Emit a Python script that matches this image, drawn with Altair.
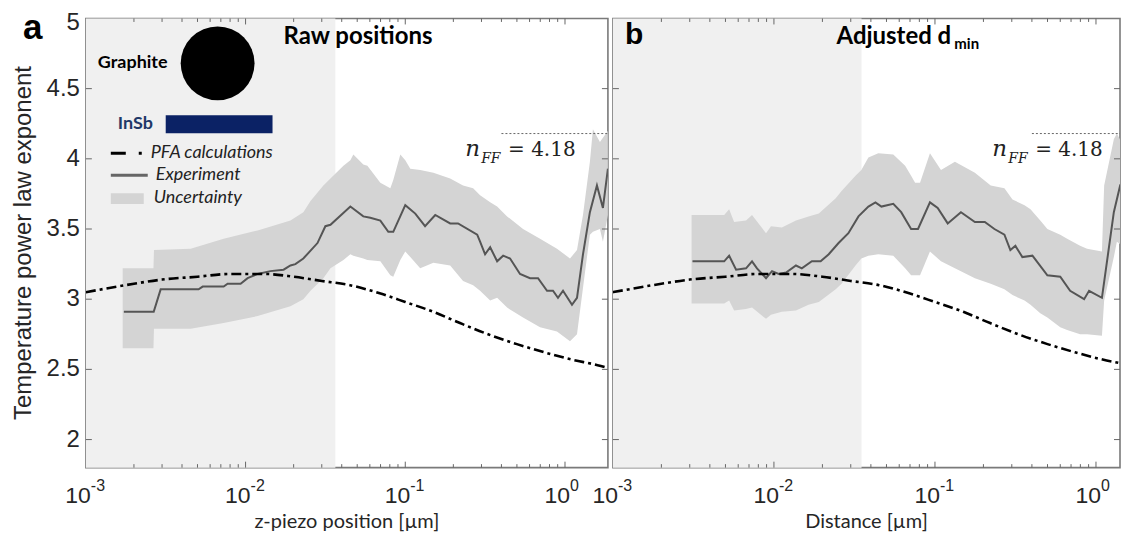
import altair as alt
import pandas as pd

# ------------------------------------------------------------------ data
pfa_x = [0.001, 0.002, 0.003, 0.005, 0.008, 0.013, 0.02, 0.03, 0.045, 0.07,
         0.1, 0.15, 0.22, 0.33, 0.5, 0.75, 1.1, 1.6, 1.86]
pfa_y = [3.05, 3.11, 3.14, 3.16, 3.18, 3.18, 3.16, 3.13, 3.10, 3.04,
         2.98, 2.91, 2.83, 2.75, 2.68, 2.62, 2.57, 2.53, 2.51]

a_exp_x = [0.00173, 0.00266, 0.00294, 0.00508, 0.00539, 0.00729, 0.00772, 0.00931,
           0.0103, 0.0119, 0.0143, 0.0173, 0.0191, 0.0205, 0.0230, 0.0282, 0.0316,
           0.0340, 0.0453, 0.0546, 0.0604, 0.0698, 0.0783, 0.0841, 0.100, 0.1155,
           0.133, 0.154, 0.191, 0.214, 0.282, 0.294, 0.316, 0.340, 0.376, 0.410,
           0.453, 0.523, 0.604, 0.678, 0.772, 0.841, 0.904, 0.972, 1.106, 1.189,
           1.296, 1.432, 1.585, 1.728, 1.857]
a_exp_y = [2.91, 2.91, 3.07, 3.07, 3.09, 3.09, 3.11, 3.11,
           3.15, 3.18, 3.20, 3.21, 3.24, 3.25, 3.29, 3.40, 3.52,
           3.53, 3.66, 3.59, 3.58, 3.56, 3.48, 3.48, 3.67, 3.61,
           3.52, 3.60, 3.54, 3.54, 3.46, 3.41, 3.32, 3.37, 3.27, 3.31,
           3.29, 3.18, 3.15, 3.15, 3.06, 3.06, 3.01, 3.06, 2.96, 3.01,
           3.32, 3.62, 3.81, 3.65, 3.93]

a_band_x = [0.00170, 0.00265, 0.00267, 0.00453, 0.00729, 0.0119, 0.0191, 0.0230,
            0.0255, 0.0307, 0.0340, 0.0410, 0.0453, 0.0473, 0.0546, 0.0579, 0.0698,
            0.0806, 0.0841, 0.0931, 0.100, 0.1075, 0.124, 0.150, 0.191, 0.230,
            0.266, 0.294, 0.340, 0.376, 0.434, 0.546, 0.698, 0.891, 1.075, 1.189,
            1.296, 1.432, 1.496, 1.655, 1.728, 1.857]
a_band_hi = [3.22, 3.22, 3.35, 3.36, 3.43, 3.49, 3.56, 3.62,
             3.70, 3.81, 3.86, 3.95, 3.99, 4.03, 3.96, 3.95, 3.83,
             3.79, 3.85, 4.03, 3.99, 3.93, 3.92, 3.90, 3.86, 3.81,
             3.79, 3.74, 3.69, 3.66, 3.59, 3.50, 3.43, 3.36, 3.29, 3.35,
             3.60, 3.98, 4.21, 4.12, 4.15, 4.20]
a_band_lo = [2.65, 2.65, 2.79, 2.79, 2.83, 2.88, 2.95, 3.00,
             3.06, 3.15, 3.22, 3.28, 3.32, 3.31, 3.29, 3.28, 3.27,
             3.17, 3.16, 3.28, 3.34, 3.30, 3.22, 3.26, 3.24, 3.13,
             3.10, 3.06, 2.99, 3.01, 2.94, 2.87, 2.80, 2.77, 2.70, 2.75,
             3.08, 3.46, 3.48, 3.50, 3.41, 3.60]

b_exp_x = [0.00312, 0.00491, 0.00527, 0.00582, 0.00671, 0.00731, 0.00785, 0.00893,
           0.00973, 0.0107, 0.0119, 0.0137, 0.0149, 0.0172, 0.0195, 0.0219, 0.0252,
           0.0290, 0.0335, 0.0386, 0.0427, 0.0465, 0.0551, 0.0617, 0.0711, 0.0785,
           0.0931, 0.104, 0.120, 0.145, 0.177, 0.204, 0.234, 0.270, 0.294, 0.316,
           0.349, 0.403, 0.499, 0.600, 0.691, 0.844, 0.906, 1.089, 1.291, 1.406, 1.55]
b_exp_y = [3.27, 3.27, 3.31, 3.21, 3.22, 3.27, 3.22, 3.15,
           3.20, 3.18, 3.19, 3.24, 3.22, 3.27, 3.27, 3.32, 3.40,
           3.47, 3.59, 3.66, 3.69, 3.66, 3.68, 3.62, 3.50, 3.50,
           3.69, 3.65, 3.54, 3.62, 3.55, 3.55, 3.50, 3.46, 3.35, 3.38,
           3.30, 3.31, 3.17, 3.16, 3.06, 3.00, 3.06, 3.01, 3.62, 3.80, 3.69]

b_band_x = [0.00308, 0.00491, 0.00527, 0.00566, 0.00671, 0.00731, 0.00893, 0.00958,
            0.0112, 0.0137, 0.0164, 0.0190, 0.0242, 0.0263, 0.0321, 0.0349, 0.0386,
            0.0445, 0.0551, 0.0653, 0.0711, 0.0753, 0.0808, 0.0931, 0.109, 0.133,
            0.177, 0.222, 0.270, 0.303, 0.360, 0.392, 0.451, 0.499, 0.600, 0.662,
            0.797, 0.880, 1.089, 1.124, 1.291, 1.348, 1.55]
b_band_hi = [3.60, 3.60, 3.64, 3.55, 3.56, 3.60, 3.47, 3.52,
             3.51, 3.56, 3.59, 3.61, 3.72, 3.77, 3.88, 3.92, 4.01,
             4.04, 4.03, 3.95, 3.88, 3.83, 3.83, 4.04, 3.92, 3.98,
             3.90, 3.81, 3.79, 3.71, 3.67, 3.64, 3.56, 3.50, 3.46, 3.43,
             3.38, 3.36, 3.34, 3.81, 4.14, 4.18, 4.05]
b_band_lo = [2.97, 2.97, 2.99, 2.92, 2.93, 2.94, 2.86, 2.89,
             2.91, 2.92, 2.96, 2.98, 3.07, 3.11, 3.24, 3.29, 3.31,
             3.32, 3.31, 3.22, 3.17, 3.17, 3.17, 3.34, 3.27, 3.22,
             3.15, 3.11, 3.07, 3.03, 2.99, 2.96, 2.90, 2.87, 2.80, 2.78,
             2.75, 2.75, 2.74, 2.99, 3.30, 3.41, 3.36]

n_ff = 4.18
n_ff_start = 0.4
y_ticks = [2.0, 2.5, 3.0, 3.5, 4.0, 4.5, 5.0]
y_tick_labels = ["2", "2.5", "3", "3.5", "4", "4.5", "5"]
x_major = [0.001, 0.01, 0.1, 1.0]
x_exp = ["-3", "-2", "-1", "0"]
x_minor_mult = [2, 3, 4, 5, 6, 7, 8, 9]

# ------------------------------------------------------------------ style
SANS = "Liberation Sans"
LATO = "Lato"
TXT = "#262626"
H = 450
YMIN, YMAX = 1.8, 5.0


def txt(text, x, y, **kw):
    return alt.Chart(pd.DataFrame({"d": [0]})).mark_text(text=text, **kw).encode(
        x=alt.value(x), y=alt.value(y))


def panel(W, xmax, ex, ey, bx, blo, bhi, shade_end, letter, letter_x, letter_size,
          title, title_x, sub, xtitle, ylabels):
    xs = alt.Scale(type="log", domain=[0.001, xmax], nice=False)
    ys = alt.Scale(domain=[YMIN, YMAX], nice=False, zero=False)
    X = lambda f: alt.X(f, type="quantitative", scale=xs, axis=None)
    Y = lambda f: alt.Y(f, type="quantitative", scale=ys, axis=None)

    layers = []
    shade = pd.DataFrame({"x": [0.001], "x2": [shade_end], "y": [YMIN], "y2": [YMAX]})
    layers.append(alt.Chart(shade).mark_rect(color="#f0f0f0").encode(
        x=X("x"), x2="x2", y=Y("y"), y2="y2"))

    band = pd.DataFrame({"x": bx, "lo": blo, "hi": bhi})
    layers.append(alt.Chart(band).mark_area(color="#d4d4d4", clip=True).encode(
        x=X("x"), y=Y("lo"), y2="hi"))

    dot = pd.DataFrame({"x": [n_ff_start], "x2": [xmax], "y": [n_ff]})
    layers.append(alt.Chart(dot).mark_rule(color="#666666", strokeWidth=1,
                                           strokeDash=[2, 2]).encode(
        x=X("x"), x2="x2", y=Y("y")))

    exp = pd.DataFrame({"x": ex, "y": ey})
    layers.append(alt.Chart(exp).mark_line(color="#555555", strokeWidth=2,
                                           clip=True).encode(
        x=X("x"), y=Y("y")))

    pfa = pd.DataFrame({"x": pfa_x, "y": pfa_y})
    layers.append(alt.Chart(pfa).mark_line(color="black", strokeWidth=2.6,
                                           strokeDash=[10, 4, 3, 4], clip=True,
                                           interpolate="monotone").encode(
        x=X("x"), y=Y("y")))

    # inward ticks
    yt = pd.DataFrame({"v": y_ticks[:-1]})
    layers.append(alt.Chart(yt).mark_rule(color="#666", strokeWidth=1).encode(
        y=Y("v"), x=alt.value(0), x2=alt.value(6)))
    layers.append(alt.Chart(yt).mark_rule(color="#666", strokeWidth=1).encode(
        y=Y("v"), x=alt.value(W - 6), x2=alt.value(W)))
    minors = [m * d for d in x_major for m in x_minor_mult if m * d <= xmax]
    xmj = pd.DataFrame({"v": x_major[1:]})
    xmn = pd.DataFrame({"v": minors})
    for df, L in ((xmj, 6), (xmn, 3.5)):
        layers.append(alt.Chart(df).mark_rule(color="#666", strokeWidth=1).encode(
            x=X("v"), y=alt.value(H - L), y2=alt.value(H)))
        layers.append(alt.Chart(df).mark_rule(color="#666", strokeWidth=1).encode(
            x=X("v"), y=alt.value(0), y2=alt.value(L)))

    # x tick labels 10^n
    xl = pd.DataFrame({"v": x_major, "e": x_exp})
    layers.append(alt.Chart(xl).mark_text(text="10", align="right", baseline="alphabetic",
                                          dx=5, fontSize=23, font=SANS, color=TXT).encode(
        x=X("v"), y=alt.value(H + 35)))
    layers.append(alt.Chart(xl).mark_text(align="left", baseline="alphabetic", dx=5,
                                          fontSize=16, font=SANS, color=TXT).encode(
        x=X("v"), y=alt.value(H + 23), text="e:N"))

    # x title
    layers.append(txt(xtitle, W / 2, H + 60, align="center", baseline="alphabetic",
                      fontSize=20, font=LATO, color=TXT))

    if ylabels:
        yl = pd.DataFrame({"v": y_ticks[:-1], "t": y_tick_labels[:-1]})
        layers.append(alt.Chart(yl).mark_text(align="right", baseline="middle", dx=-6,
                                              fontSize=24, font=SANS, color=TXT).encode(
            x=alt.value(0), y=Y("v"), text="t:N"))
        yl5 = pd.DataFrame({"v": y_ticks[-1:], "t": y_tick_labels[-1:]})
        layers.append(alt.Chart(yl5).mark_text(align="right", baseline="middle", dx=-6,
                                               dy=5, fontSize=24, font=SANS, color=TXT).encode(
            x=alt.value(0), y=Y("v"), text="t:N"))
        layers.append(txt("Temperature power law exponent", -62, H / 2, angle=270,
                          align="center", baseline="middle", fontSize=24, font=SANS,
                          color=TXT))

    # panel letter and title
    layers.append(txt(letter, letter_x, 26 if letter == "b" else 21, align="left",
                      baseline="alphabetic", fontSize=letter_size, fontWeight="bold",
                      font=SANS, color="black"))
    layers.append(txt(title, title_x, 26, align="left", baseline="alphabetic",
                      fontSize=24, fontWeight="bold", font=LATO, color="black"))
    if sub:
        layers.append(txt(sub[0], sub[1], 31, align="left", baseline="alphabetic",
                          fontSize=15, fontWeight="bold", font=LATO, color="black"))

    # n_FF annotation
    layers.append(txt("n", 380, 138, align="left", baseline="alphabetic", fontSize=23,
                      fontStyle="italic", font="DejaVu Serif", color="#222"))
    layers.append(txt("FF", 396, 145, align="left", baseline="alphabetic", fontSize=14,
                      fontStyle="italic", font="DejaVu Serif", color="#222"))
    layers.append(txt("= 4.18", 423, 138, align="left", baseline="alphabetic",
                      fontSize=20, font="DejaVu Serif", color="#222"))

    return alt.layer(*layers).properties(width=W, height=H)


WA, WB = 523, 508
pa = panel(WA, 1.857, a_exp_x, a_exp_y, a_band_x, a_band_lo, a_band_hi, 0.0365,
           "a", -63, 35, "Raw positions", 198, None, "z-piezo position [µm]", True)
pb = panel(WB, 1.41, b_exp_x, b_exp_y, b_band_x, b_band_lo, b_band_hi, 0.035,
           "b", 12, 30, "Adjusted d", 224, ("min", 342), "Distance [µm]", False)

# ---- inset legend / material sketch on panel a (pixel placed)
dummy = pd.DataFrame({"d": [0]})
inset = [
    txt("Graphite", 12, 45, align="left", baseline="middle", fontSize=18,
        fontWeight="bold", font=LATO, color="black"),
    alt.Chart(dummy).mark_point(shape="circle", filled=True, color="black", opacity=1,
                                size=5476).encode(x=alt.value(132), y=alt.value(45)),
    txt("InSb", 32, 106, align="left", baseline="middle", fontSize=18,
        fontWeight="bold", font=LATO, color="#1f3868"),
    alt.Chart(dummy).mark_rect(color="#0b2265").encode(
        x=alt.value(80), x2=alt.value(187), y=alt.value(97), y2=alt.value(115)),
    alt.Chart(dummy).mark_rule(color="black", strokeWidth=3,
                               strokeDash=[15, 13, 3, 40]).encode(
        x=alt.value(25), x2=alt.value(58), y=alt.value(135)),
    txt("PFA calculations", 65, 135, align="left", baseline="middle", fontSize=18,
        fontStyle="italic", font=LATO, color="#222"),
    alt.Chart(dummy).mark_rule(color="#666666", strokeWidth=3).encode(
        x=alt.value(25), x2=alt.value(62), y=alt.value(157)),
    txt("Experiment", 70, 157, align="left", baseline="middle", fontSize=18,
        fontStyle="italic", font=LATO, color="#222"),
    alt.Chart(dummy).mark_rect(color="#d4d4d4").encode(
        x=alt.value(25), x2=alt.value(58), y=alt.value(175), y2=alt.value(186)),
    txt("Uncertainty", 68, 180, align="left", baseline="middle", fontSize=18,
        fontStyle="italic", font=LATO, color="#222"),
]
pa = alt.layer(pa, *inset)

chart = alt.hconcat(pa, pb, spacing=5, bounds="flush").properties(
    padding={"left": 3, "top": 2, "right": 0, "bottom": 0}
).configure_view(stroke="#7a7a7a", strokeWidth=1.6)

chart.save("out.html", embed_options={"renderer": "svg", "actions": False})
